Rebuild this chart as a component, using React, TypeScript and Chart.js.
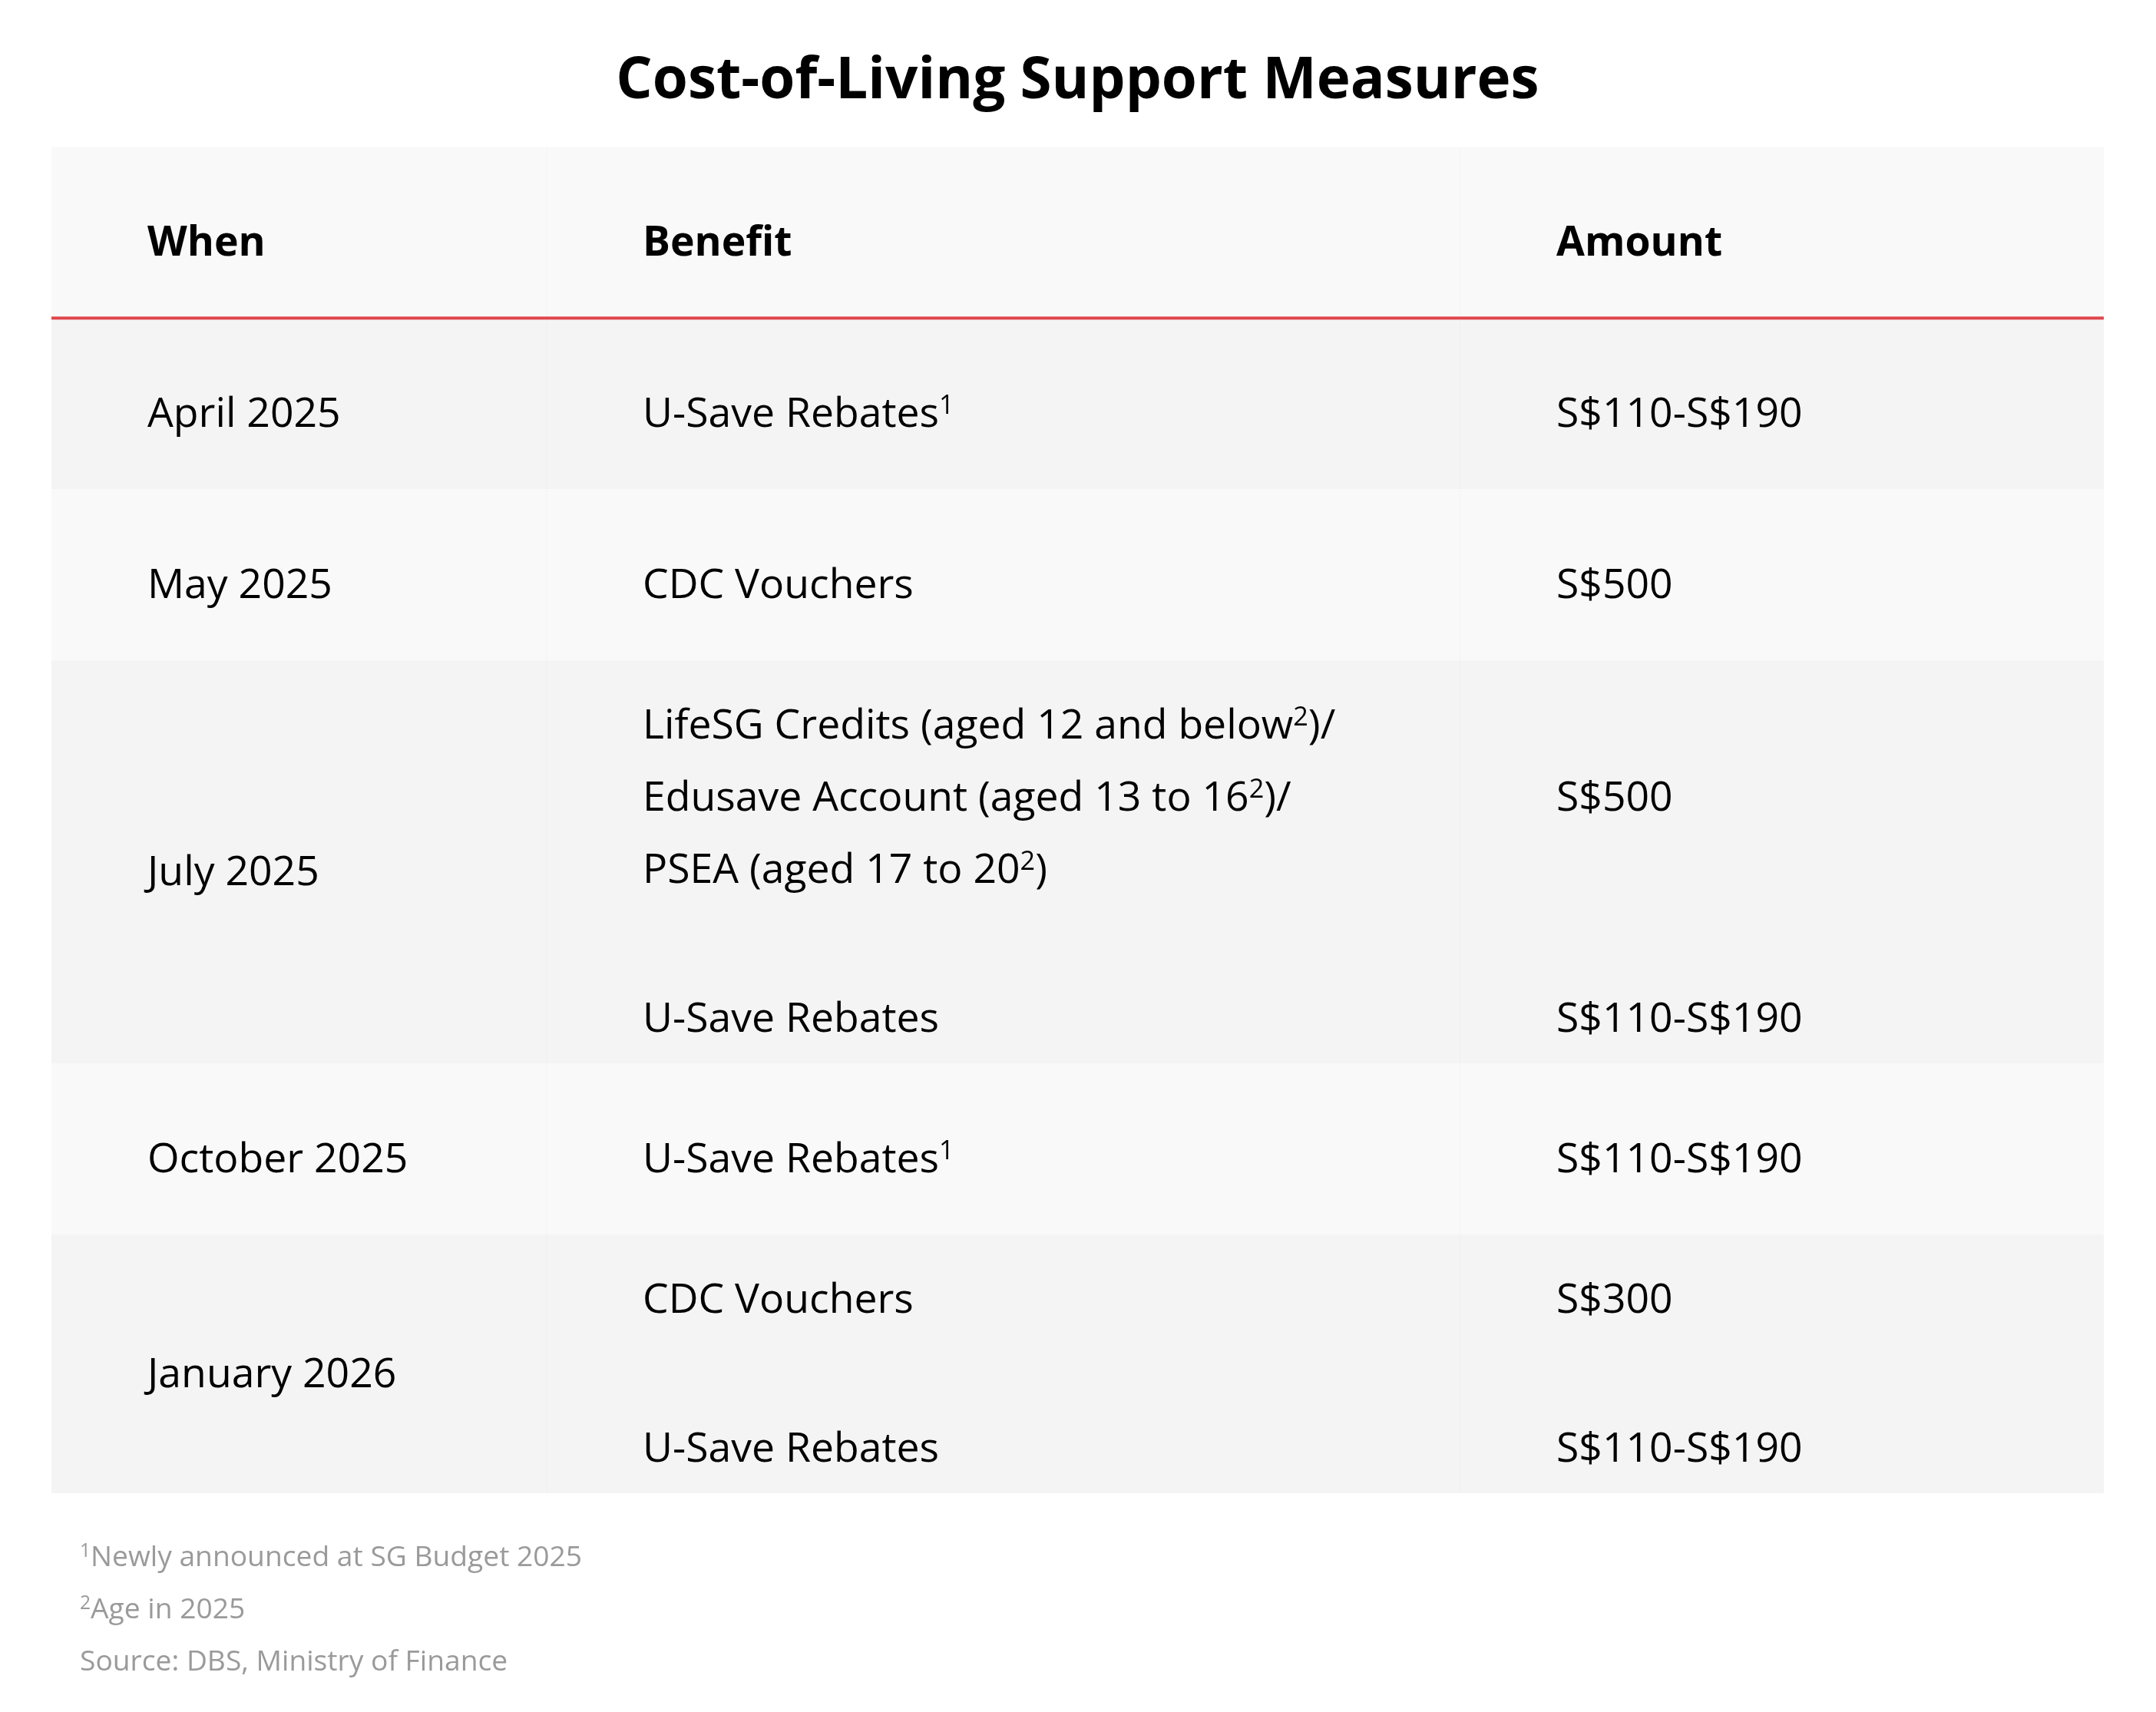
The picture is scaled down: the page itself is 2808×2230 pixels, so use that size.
import React, { useEffect, useRef } from "react";
import { Chart, registerables } from "chart.js";

Chart.register(...registerables);

// ---------- data ----------
const TITLE = "Cost-of-Living Support Measures";
const COLUMNS = ["When", "Benefit", "Amount"];
const WHEN = ["April 2025", "May 2025", "July 2025", "October 2025", "January 2026"];
// each row: list of benefit groups, each group a list of lines ("^n" marks a superscript)
const BENEFITS: string[][][] = [
  [["U-Save Rebates^1"]],
  [["CDC Vouchers"]],
  [
    [
      "LifeSG Credits (aged 12 and below^2)/",
      "Edusave Account (aged 13 to 16^2)/",
      "PSEA (aged 17 to 20^2)",
    ],
    ["U-Save Rebates"],
  ],
  [["U-Save Rebates^1"]],
  [["CDC Vouchers"], ["U-Save Rebates"]],
];
const AMOUNTS: string[][] = [
  ["S$110-S$190"],
  ["S$500"],
  ["S$500", "S$110-S$190"],
  ["S$110-S$190"],
  ["S$300", "S$110-S$190"],
];
const FOOTNOTES = ["^1Newly announced at SG Budget 2025", "^2Age in 2025", "Source: DBS, Ministry of Finance"];

// ---------- layout / style ----------
const COL_WIDTHS = [645, 1190, 838];
const TEXT_INSET = 125;
const SINGLE_ROW_H = 223;
const SINGLE_BASE = 142;
const MULTI_FIRST_BASE = 102;
const LINE_H = 94;
const GROUP_EXTRA = 100;
const MULTI_BOTTOM = 41;
const FONT = "'Open Sans', 'Noto Sans', sans-serif";
const BODY_SIZE = 53.5;
const FOOT_SIZE = 37.2;
const HEADER_BG = "#f9f9f9";
const ROW_BG = ["#f4f4f4", "#f9f9f9"];
const RED = "#e0474c";

type Item = { text: string; col: number; base: number; bold?: boolean };

function buildRows() {
  const rows: { h: number; items: Item[] }[] = [];
  rows.push({
    h: SINGLE_ROW_H,
    items: COLUMNS.map((c, i) => ({ text: c, col: i, base: SINGLE_BASE, bold: true })),
  });
  WHEN.forEach((w, r) => {
    const groups = BENEFITS[r];
    const items: Item[] = [];
    if (groups.length === 1 && groups[0].length === 1) {
      items.push({ text: w, col: 0, base: SINGLE_BASE });
      items.push({ text: groups[0][0], col: 1, base: SINGLE_BASE });
      items.push({ text: AMOUNTS[r][0], col: 2, base: SINGLE_BASE });
      rows.push({ h: SINGLE_ROW_H, items });
    } else {
      let y = MULTI_FIRST_BASE;
      const first = y;
      let last = y;
      groups.forEach((g, gi) => {
        const start = y;
        g.forEach((line, li) => {
          items.push({ text: line, col: 1, base: y });
          last = y;
          if (li < g.length - 1) y += LINE_H;
        });
        const mid = (start + y) / 2;
        items.push({ text: AMOUNTS[r][gi], col: 2, base: mid });
        y += LINE_H + GROUP_EXTRA;
      });
      items.push({ text: w, col: 0, base: (first + last) / 2 });
      rows.push({ h: last + MULTI_BOTTOM, items });
    }
  });
  return rows;
}

function drawRich(ctx: CanvasRenderingContext2D, text: string, x: number, y: number, size: number, weight: string, color: string, supScale: number, supRaise: number) {
  const parts = text.split(/(\^\d)/);
  let cx = x;
  ctx.fillStyle = color;
  ctx.textBaseline = "alphabetic";
  ctx.textAlign = "left";
  for (const p of parts) {
    if (!p) continue;
    if (p.startsWith("^")) {
      const s = p.slice(1);
      ctx.font = `${weight} ${(size * supScale).toFixed(1)}px ${FONT}`;
      ctx.fillText(s, cx, y - size * supRaise);
      cx += ctx.measureText(s).width;
    } else {
      ctx.font = `${weight} ${size}px ${FONT}`;
      ctx.fillText(p, cx, y);
      cx += ctx.measureText(p).width;
    }
  }
}

export default function App() {
  const ref = useRef<HTMLCanvasElement | null>(null);
  useEffect(() => {
    const canvas = ref.current;
    if (!canvas) return;
    const rows = buildRows();
    const totalH = rows.reduce((a, r) => a + r.h, 0);
    const totalW = COL_WIDTHS.reduce((a, b) => a + b, 0);
    const colStarts = COL_WIDTHS.map((_, i) => COL_WIDTHS.slice(0, i).reduce((a, b) => a + b, 0));

    const tablePlugin = {
      id: "tablePlugin",
      beforeDatasetsDraw(chart: any) {
        const ctx: CanvasRenderingContext2D = chart.ctx;
        const xs = chart.scales.x;
        const ys = chart.scales.y;
        const X = (v: number) => xs.getPixelForValue(v);
        const Y = (v: number) => ys.getPixelForValue(v);
        ctx.save();
        let top = 0;
        rows.forEach((row, ri) => {
          const bg = ri === 0 ? HEADER_BG : ROW_BG[(ri - 1) % 2];
          ctx.fillStyle = bg;
          ctx.fillRect(X(0), Y(top), X(totalW) - X(0), Y(top + row.h) - Y(top));
          // column dividers
          ctx.fillStyle = "rgba(0,0,0,0.012)";
          for (let c = 1; c < COL_WIDTHS.length; c++) {
            ctx.fillRect(X(colStarts[c]) - 1, Y(top), 2, Y(top + row.h) - Y(top));
          }
          row.items.forEach((it) => {
            drawRich(
              ctx,
              it.text,
              X(colStarts[it.col] + TEXT_INSET),
              Y(top + it.base),
              BODY_SIZE,
              it.bold ? "bold" : "normal",
              "#000000",
              0.64,
              0.32
            );
          });
          top += row.h;
        });
        // red header rule
        const hy = Y(rows[0].h);
        ctx.fillStyle = RED;
        ctx.fillRect(X(0), hy - 2, X(totalW) - X(0), 4);
        // footnotes
        const bottom = Y(totalH);
        FOOTNOTES.forEach((f, i) => {
          drawRich(ctx, f, X(0) + 37, bottom + 95 + i * 68, FOOT_SIZE, "normal", "#9a9a9a", 0.66, 0.33);
        });
        ctx.restore();
      },
    };

    const chart = new Chart(canvas, {
      type: "scatter",
      data: { datasets: [{ data: [], pointRadius: 0 }] },
      options: {
        animation: false,
        responsive: false,
        devicePixelRatio: 1,
        layout: { padding: { left: 67, right: 68, top: 0, bottom: 285 } },
        scales: {
          x: { type: "linear", min: 0, max: totalW, display: false },
          y: { type: "linear", min: 0, max: totalH, reverse: true, display: false },
        },
        plugins: {
          legend: { display: false },
          tooltip: { enabled: false },
          title: {
            display: true,
            text: TITLE,
            color: "#000000",
            font: { family: FONT, size: 74.5, weight: "bold", lineHeight: 1.2 },
            padding: { top: 62, bottom: 40 },
          },
        },
      },
      plugins: [tablePlugin],
    });
    return () => chart.destroy();
  }, []);
  return (
    <div style={{ position: "absolute", left: 0, top: 0, width: 2808, height: 2230, background: "#ffffff" }}>
      <canvas ref={ref} width={2808} height={2230} />
    </div>
  );
}
